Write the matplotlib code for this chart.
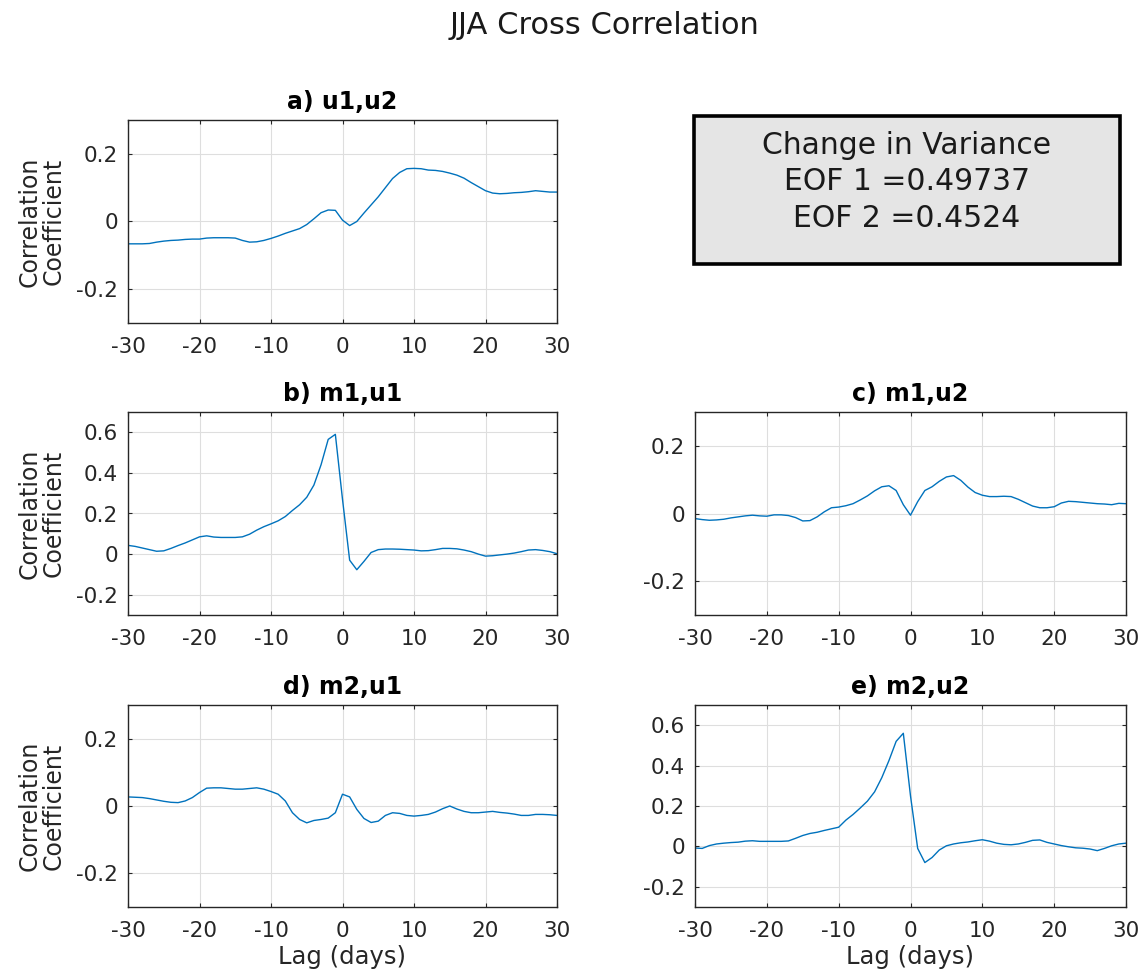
import matplotlib
matplotlib.use("Agg")
import matplotlib.pyplot as plt
from matplotlib.patches import Rectangle

plt.rcParams['font.family'] = ['DejaVu Sans']
plt.rcParams['axes.unicode_minus'] = False

# Lag axis (days)
LAGS = list(range(-30, 31))

# Cross-correlation coefficients at each lag
u1_u2 = [-0.066, -0.066, -0.066, -0.065, -0.061, -0.058, -0.056, -0.055, -0.053, -0.052,
         -0.052, -0.049, -0.048, -0.048, -0.048, -0.049, -0.056, -0.061, -0.060, -0.056,
         -0.050, -0.043, -0.035, -0.028, -0.021, -0.009, 0.008, 0.026, 0.034, 0.033,
         0.004, -0.012, 0.000, 0.025, 0.049, 0.073, 0.100, 0.127, 0.145, 0.156,
         0.157, 0.156, 0.152, 0.151, 0.148, 0.143, 0.137, 0.128, 0.115, 0.103,
         0.091, 0.084, 0.082, 0.083, 0.085, 0.086, 0.088, 0.091, 0.089, 0.087, 0.087]

m1_u1 = [0.043, 0.038, 0.030, 0.022, 0.014, 0.016, 0.028, 0.042, 0.055, 0.070,
         0.085, 0.090, 0.084, 0.082, 0.082, 0.082, 0.085, 0.098, 0.118, 0.135,
         0.149, 0.164, 0.185, 0.215, 0.243, 0.280, 0.340, 0.440, 0.565, 0.590,
         0.270, -0.030, -0.077, -0.036, 0.008, 0.022, 0.025, 0.025, 0.024, 0.022,
         0.020, 0.016, 0.017, 0.022, 0.028, 0.028, 0.026, 0.020, 0.012, 0.000,
         -0.010, -0.008, -0.004, 0.000, 0.005, 0.012, 0.020, 0.022, 0.018, 0.012, 0.002]

m1_u2 = [-0.015, -0.018, -0.020, -0.019, -0.017, -0.013, -0.010, -0.007, -0.005, -0.007,
         -0.008, -0.004, -0.004, -0.006, -0.012, -0.022, -0.021, -0.010, 0.005, 0.017,
         0.019, 0.023, 0.029, 0.040, 0.052, 0.067, 0.079, 0.082, 0.068, 0.026,
         -0.005, 0.035, 0.068, 0.079, 0.095, 0.108, 0.112, 0.098, 0.078, 0.062,
         0.054, 0.050, 0.050, 0.051, 0.050, 0.042, 0.032, 0.022, 0.017, 0.017,
         0.020, 0.031, 0.036, 0.035, 0.033, 0.031, 0.029, 0.028, 0.026, 0.030, 0.029]

m2_u1 = [0.027, 0.026, 0.025, 0.022, 0.018, 0.014, 0.011, 0.010, 0.015, 0.025,
         0.040, 0.053, 0.054, 0.054, 0.052, 0.050, 0.050, 0.052, 0.054, 0.050,
         0.043, 0.035, 0.015, -0.020, -0.040, -0.050, -0.043, -0.040, -0.036, -0.020,
         0.035, 0.027, -0.010, -0.037, -0.049, -0.045, -0.028, -0.020, -0.022, -0.028,
         -0.030, -0.028, -0.025, -0.018, -0.008, 0.000, -0.009, -0.016, -0.020, -0.020,
         -0.018, -0.016, -0.019, -0.021, -0.024, -0.028, -0.028, -0.025, -0.025, -0.026, -0.028]

m2_u2 = [-0.008, -0.010, 0.004, 0.012, 0.016, 0.019, 0.021, 0.026, 0.028, 0.025,
         0.025, 0.025, 0.025, 0.027, 0.040, 0.054, 0.064, 0.070, 0.079, 0.087,
         0.095, 0.130, 0.158, 0.190, 0.224, 0.270, 0.340, 0.425, 0.520, 0.560,
         0.250, -0.010, -0.080, -0.055, -0.018, 0.003, 0.012, 0.018, 0.022, 0.028,
         0.033, 0.026, 0.016, 0.010, 0.008, 0.012, 0.020, 0.030, 0.032, 0.020,
         0.012, 0.004, -0.002, -0.007, -0.009, -0.013, -0.021, -0.010, 0.003, 0.012, 0.016]

VAR_EOF1 = 0.49737
VAR_EOF2 = 0.4524

W, H = 1142, 977
fig = plt.figure(figsize=(W / 100, H / 100), dpi=100)

AX_COLOR = '#262626'
LINE_COLOR = '#0072BD'


def px_axes(x0, y0, x1, y1):
    return fig.add_axes([x0 / W, 1 - y1 / H, (x1 - x0) / W, (y1 - y0) / H])


def style(ax, series, title, ylim, yticks, ylabel=True, xlabel=False):
    ax.plot(LAGS, series, color=LINE_COLOR, lw=1.0)
    ax.set_xlim(-30, 30)
    ax.set_ylim(*ylim)
    ax.set_xticks(range(-30, 31, 10))
    ax.set_yticks(yticks)
    ax.set_yticklabels([('%g' % t) for t in yticks])
    ax.grid(True, color='#dedede', lw=0.8)
    ax.set_axisbelow(True)
    ax.tick_params(direction='in', length=3, width=0.8, colors=AX_COLOR,
                   labelsize=15.5, top=True, right=True)
    ax.tick_params(axis='x', pad=10)
    ax.tick_params(axis='y', pad=7)
    for s in ax.spines.values():
        s.set_color(AX_COLOR)
        s.set_linewidth(1.0)
    ax.set_title(title, fontsize=17, fontweight='bold', pad=8)
    if ylabel:
        ax.set_ylabel('Correlation\nCoefficient', fontsize=17, color=AX_COLOR,
                      labelpad=8, linespacing=1.0)
    if xlabel:
        ax.set_xlabel('Lag (days)', fontsize=17.5, color=AX_COLOR, labelpad=3)


ax_a = px_axes(128, 120, 557, 323)
style(ax_a, u1_u2, 'a) u1,u2', (-0.3, 0.3), [-0.2, 0, 0.2])

ax_b = px_axes(128, 412, 557, 615)
style(ax_b, m1_u1, 'b) m1,u1', (-0.3, 0.7), [-0.2, 0, 0.2, 0.4, 0.6])

ax_c = px_axes(695, 412, 1126, 615)
style(ax_c, m1_u2, 'c) m1,u2', (-0.3, 0.3), [-0.2, 0, 0.2], ylabel=False)

ax_d = px_axes(128, 705, 557, 907)
style(ax_d, m2_u1, 'd) m2,u1', (-0.3, 0.3), [-0.2, 0, 0.2], xlabel=True)

ax_e = px_axes(695, 705, 1126, 907)
style(ax_e, m2_u2, 'e) m2,u2', (-0.3, 0.7), [-0.2, 0, 0.2, 0.4, 0.6],
      ylabel=False, xlabel=True)

fig.text(604 / W, 1 - 34 / H, 'JJA Cross Correlation', ha='center', va='baseline',
         fontsize=22, color='#1a1a1a')

# Variance summary box
bx0, by0, bx1, by1 = 694, 116, 1120, 264
fig.patches.append(Rectangle((bx0 / W, 1 - by1 / H), (bx1 - bx0) / W, (by1 - by0) / H,
                             transform=fig.transFigure, facecolor='#e5e5e5',
                             edgecolor='black', linewidth=2.6, zorder=0))
box_text = 'Change in Variance\nEOF 1 =%g\nEOF 2 =%g' % (VAR_EOF1, VAR_EOF2)
fig.text((bx0 + bx1) / 2 / W, 1 - 182 / H, box_text, ha='center', va='center',
         fontsize=21.5, color='#1a1a1a', linespacing=1.32)

fig.savefig('out.png', dpi=100)
